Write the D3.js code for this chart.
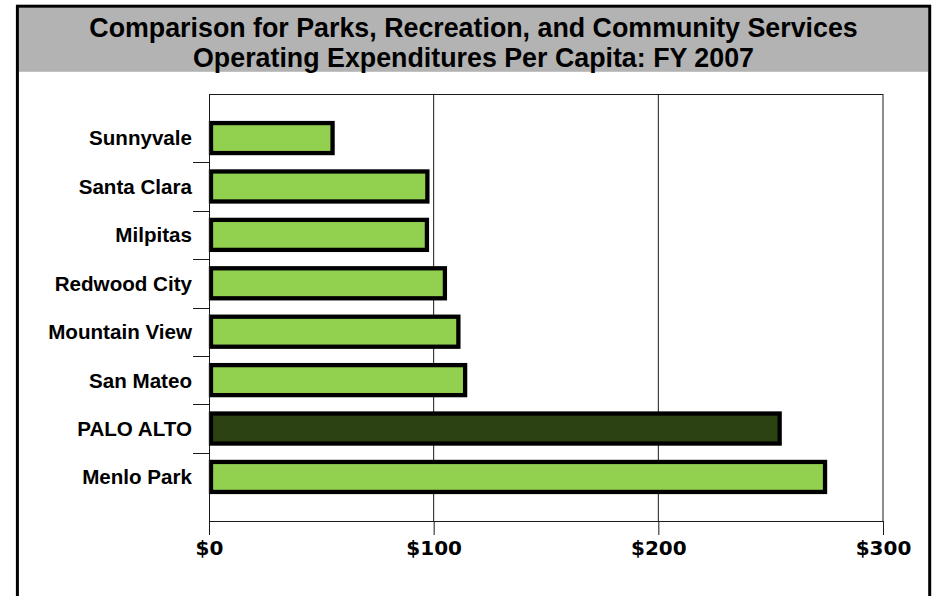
<!DOCTYPE html>
<html>
<head>
<meta charset="utf-8">
<script src="https://cdn.jsdelivr.net/npm/d3@7/dist/d3.min.js"></script>
<style>
  html, body { margin: 0; padding: 0; background: #fff; }
  svg { display: block; }
</style>
</head>
<body>
<svg id="chart" width="933" height="596"></svg>
<script>
// Per-capita operating expenditures, FY 2007 (US dollars)
const cities = ["Sunnyvale", "Santa Clara", "Milpitas", "Redwood City",
                "Mountain View", "San Mateo", "PALO ALTO", "Menlo Park"];
const spending = [55, 97.2, 97, 105, 111, 114, 254, 274.2];
const highlightCity = "PALO ALTO";
const xTicks = [0, 100, 200, 300];
const titleLines = ["Comparison for Parks, Recreation, and Community Services",
                    "Operating Expenditures Per Capita: FY 2007"];

const svg = d3.select("#chart");

// Outer frame and grey title band
svg.append("rect")
  .attr("x", 19).attr("y", 7.3)
  .attr("width", 909.3).attr("height", 64.5)
  .attr("fill", "#b3b3b3");
svg.append("rect")
  .attr("x", 17.4).attr("y", 6.2)
  .attr("width", 912.3).attr("height", 640)
  .attr("fill", "none")
  .attr("stroke", "#000")
  .attr("stroke-width", 3);

svg.append("g").selectAll("text")
  .data(titleLines)
  .join("text")
  .attr("x", 473.5)
  .attr("y", (d, i) => 36.5 + i * 30)
  .attr("text-anchor", "middle")
  .attr("font-family", "'Liberation Sans', Arial, sans-serif")
  .attr("font-weight", "bold")
  .attr("font-size", "26.8px")
  .attr("fill", "#000")
  .text(d => d);

// Plot area
const plot = { left: 209, right: 883, top: 94, bottom: 521 };

const x = d3.scaleLinear()
  .domain([0, 300])
  .range([plot.left, plot.right]);

const y = d3.scaleBand()
  .domain(cities)
  .range([plot.top, plot.bottom])
  .paddingInner(0.38)
  .paddingOuter(0.6);

// Vertical gridlines
svg.append("g").selectAll("line")
  .data(xTicks.slice(1))
  .join("line")
  .attr("x1", d => x(d)).attr("x2", d => x(d))
  .attr("y1", plot.top).attr("y2", plot.bottom)
  .attr("stroke", "#1a1a1a")
  .attr("stroke-width", 1);

// Top border of the plot area
svg.append("line")
  .attr("x1", plot.left).attr("x2", plot.right)
  .attr("y1", plot.top + 0.5).attr("y2", plot.top + 0.5)
  .attr("stroke", "#1a1a1a")
  .attr("stroke-width", 1);

// Bars
svg.append("g").selectAll("rect")
  .data(cities.map((c, i) => ({ city: c, value: spending[i] })))
  .join("rect")
  .attr("x", x(0) + 2)
  .attr("y", d => y(d.city))
  .attr("width", d => x(d.value) - x(0) - 2)
  .attr("height", y.bandwidth())
  .attr("fill", d => d.city === highlightCity ? "#2d4213" : "#92d050")
  .attr("stroke", "#000")
  .attr("stroke-width", 4.3);

// Category axis: ticks sit between the bands
const yAxisG = svg.append("g");
yAxisG.append("line")
  .attr("x1", plot.left + 0.5).attr("x2", plot.left + 0.5)
  .attr("y1", plot.top).attr("y2", plot.bottom)
  .attr("stroke", "#1a1a1a");
yAxisG.selectAll("line.sep")
  .data(cities.slice(0, -1))
  .join("line")
  .attr("class", "sep")
  .attr("x1", plot.left - 16).attr("x2", plot.left)
  .attr("y1", d => Math.round(y(d) + y.bandwidth() + y.step() * y.paddingInner() / 2) + 0.5)
  .attr("y2", d => Math.round(y(d) + y.bandwidth() + y.step() * y.paddingInner() / 2) + 0.5)
  .attr("stroke", "#1a1a1a");
yAxisG.selectAll("text")
  .data(cities)
  .join("text")
  .attr("x", plot.left - 17)
  .attr("y", d => y(d) + y.bandwidth() / 2)
  .attr("dy", "0.36em")
  .attr("text-anchor", "end")
  .attr("font-family", "'Liberation Sans', Arial, sans-serif")
  .attr("font-weight", "bold")
  .attr("font-size", "20.6px")
  .attr("fill", "#000")
  .text(d => d);

// Value axis
const xAxis = d3.axisBottom(x)
  .tickValues(xTicks)
  .tickSize(14)
  .tickPadding(6)
  .tickFormat(d => "$" + d);
const xAxisG = svg.append("g")
  .attr("transform", `translate(0,${plot.bottom})`)
  .call(xAxis);
xAxisG.select(".domain").attr("stroke", "#1a1a1a");
xAxisG.selectAll(".tick line").attr("stroke", "#1a1a1a");
xAxisG.selectAll(".tick text")
  .attr("font-family", "'DejaVu Sans', Verdana, sans-serif")
  .attr("font-weight", "bold")
  .attr("font-size", "20px")
  .attr("fill", "#000");
</script>
</body>
</html>
